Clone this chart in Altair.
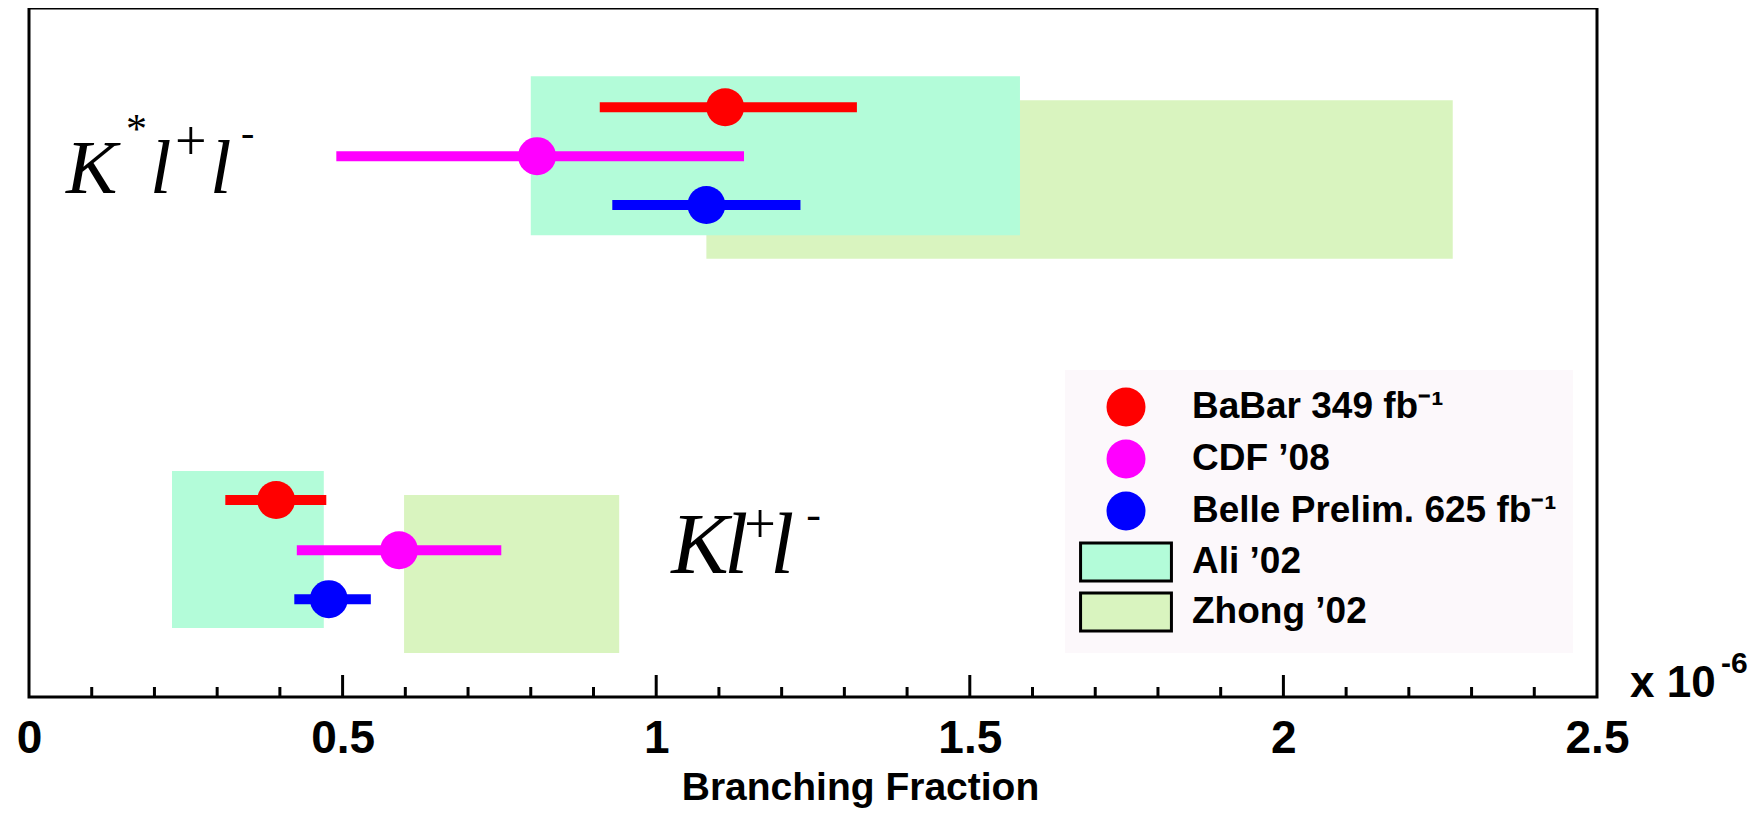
import altair as alt
import pandas as pd

# ---------------- data (branching fractions, units of 1e-6) ----------------
experiments = ["BaBar 349 fb⁻¹", "CDF ’08", "Belle Prelim. 625 fb⁻¹"]
theories = ["Zhong ’02", "Ali ’02"]
legend_order = ["BaBar 349 fb⁻¹", "CDF ’08", "Belle Prelim. 625 fb⁻¹", "Ali ’02", "Zhong ’02"]

# K* l+ l-  measurements
kst_val = [1.11, 0.81, 1.08]
kst_lo = [0.91, 0.49, 0.93]
kst_hi = [1.32, 1.14, 1.23]
kst_row = [8.56, 7.85, 7.14]

# K l+ l-  measurements
k_val = [0.394, 0.59, 0.478]
k_lo = [0.313, 0.427, 0.423]
k_hi = [0.474, 0.753, 0.545]
k_row = [2.86, 2.13, 1.42]

# theory bands (order: Zhong, Ali)
kst_th_lo = [1.08, 0.80]
kst_th_hi = [2.27, 1.58]
kst_th_bottom = [6.36, 6.70]
kst_th_top = [8.66, 9.01]
k_th_lo = [0.598, 0.228]
k_th_hi = [0.941, 0.470]
k_th_bottom = [0.64, 1.00]
k_th_top = [2.93, 3.28]

# channel label anchors
label_channel = ["Kst", "K"]
label_x = [0.059, 1.024]
label_y = [7.315, 1.80]

tick_labels = [0, 0.5, 1, 1.5, 2, 2.5]
major_ticks = [0.5, 1.0, 1.5, 2.0]
minor_ticks = [0.1, 0.2, 0.3, 0.4, 0.6, 0.7, 0.8, 0.9, 1.1, 1.2, 1.3, 1.4,
               1.6, 1.7, 1.8, 1.9, 2.1, 2.2, 2.3, 2.4]

# ---------------- tables ----------------
meas = pd.DataFrame({
    "source": experiments * 2,
    "value": kst_val + k_val,
    "lo": kst_lo + k_lo,
    "hi": kst_hi + k_hi,
    "row": kst_row + k_row,
})
theory = pd.DataFrame({
    "source": theories * 2,
    "lo": kst_th_lo + k_th_lo,
    "hi": kst_th_hi + k_th_hi,
    "bottom": kst_th_bottom + k_th_bottom,
    "top": kst_th_top + k_th_top,
})
labels = pd.DataFrame({"channel": label_channel, "lx": label_x, "ly": label_y})
major_df = pd.DataFrame({"pos": major_ticks})
minor_df = pd.DataFrame({"pos": minor_ticks})

# ---------------- styling ----------------
W, H = 1568, 689
SANS = "Liberation Sans"
SERIF = "Liberation Serif"

colors = ["#ff0000", "#ff00ff", "#0000ff", "#b3fcd9", "#d9f4bf"]
rect_path = "M-2.33,-0.97H2.33V0.97H-2.33Z"
shapes = ["circle", "circle", "circle", rect_path, rect_path]
strokes = ["transparent", "transparent", "transparent", "black", "black"]

xscale = alt.Scale(domain=[0, 2.5], nice=False, zero=False)
yscale = alt.Scale(domain=[0, 10], nice=False, zero=False)
cscale = alt.Scale(domain=legend_order, range=colors)

xaxis = alt.Axis(
    values=tick_labels, format="~g", title="Branching Fraction",
    domain=False, ticks=False, tickSize=0, grid=False,
    labelFont=SANS, labelFontSize=46, labelFontWeight="bold", labelColor="black",
    labelPadding=19, labelFlush=False, labelOverlap=False, labelBaseline="top",
    titleFont=SANS, titleFontSize=39, titleFontWeight="bold", titleColor="black",
    titleX=831, titleY=102, titleAlign="center", titleBaseline="alphabetic",
)


def X(field):
    return alt.X(field, type="quantitative", scale=xscale, axis=xaxis)


def Y(field):
    return alt.Y(field, type="quantitative", scale=yscale, axis=None)


legend = alt.Legend(
    title=None, orient="none", legendX=1036, legendY=362,
    symbolSize=1521, symbolStrokeWidth=3, symbolOffset=24, symbolOpacity=1,
    labelOffset=45, rowPadding=0, padding=16, fillColor="#fcf8fb",
    labelFont=SANS, labelFontSize=37, labelFontWeight="bold", labelColor="black",
    labelLimit=0, labelBaseline="middle",
)

boxes = alt.Chart(theory).mark_rect(opacity=1).encode(
    x=X("lo"), x2="hi", y=Y("bottom"), y2="top",
    color=alt.Color("source:N", scale=cscale, legend=None),
)

bars = alt.Chart(meas).mark_rule(strokeWidth=10).encode(
    x=X("lo"), x2="hi", y=Y("row"),
    color=alt.Color("source:N", scale=cscale, legend=None),
)

points = alt.Chart(meas).mark_point(filled=True, opacity=1, size=1444, strokeWidth=3).encode(
    x=X("value"), y=Y("row"),
    color=alt.Color("source:N", scale=cscale, legend=legend),
    shape=alt.Shape("source:N", scale=alt.Scale(domain=legend_order, range=shapes), legend=legend),
    stroke=alt.Stroke("source:N", scale=alt.Scale(domain=legend_order, range=strokes), legend=legend),
)

major = alt.Chart(major_df).mark_rule(color="black", strokeWidth=3).encode(
    x=X("pos"), y=alt.value(H), y2=alt.value(H - 22)
)
minor = alt.Chart(minor_df).mark_rule(color="black", strokeWidth=3).encode(
    x=X("pos"), y=alt.value(H), y2=alt.value(H - 10)
)

# pieces of the channel labels: (text, dx, dy, size, style)
pieces = {
    "Kst": [("K", 0, 0, 77, "italic"), ("*", 60, -50, 42, "normal"),
            ("l", 84, 0, 77, "italic"), ("+", 109, -33, 56, "normal"),
            ("l", 144, 0, 77, "italic"), ("-", 175, -47, 40, "normal")],
    "K": [("K", 0, 0, 86, "italic"), ("l", 53, 0, 86, "italic"),
          ("+", 73, -30, 56, "normal"), ("l", 99, 0, 86, "italic"),
          ("-", 135, -44, 44, "normal")],
}
label_layers = []
for ch, plist in pieces.items():
    for txt, dx, dy, size, style in plist:
        label_layers.append(
            alt.Chart(labels).transform_filter(alt.datum.channel == ch).mark_text(
                text=txt, dx=dx, dy=dy, fontSize=size, font=SERIF, fontStyle=style,
                align="left", baseline="alphabetic", color="black",
            ).encode(x=X("lx"), y=Y("ly"))
        )

scale_note = alt.Chart(labels).mark_text(
    text="x 10", fontSize=44, font=SANS, fontWeight="bold", align="left",
    baseline="alphabetic", color="black",
).encode(x=alt.value(W + 33), y=alt.value(H)).transform_filter(alt.datum.channel == "K")
scale_exp = alt.Chart(labels).mark_text(
    text="-6", fontSize=30, font=SANS, fontWeight="bold", align="left",
    baseline="alphabetic", color="black",
).encode(x=alt.value(W + 124), y=alt.value(H - 24)).transform_filter(alt.datum.channel == "K")

chart = alt.layer(
    boxes, bars, points, major, minor, *label_layers, scale_note, scale_exp
).resolve_legend(
    color="independent", shape="independent", stroke="independent"
).properties(
    width=W, height=H,
    padding={"left": 21, "top": 0, "right": 158, "bottom": 111},
    autosize=alt.AutoSizeParams(type="none"),
    background="white",
).configure_view(
    stroke="black", strokeWidth=3, fill="white"
)

chart.save("out.html", embed_options={"renderer": "svg", "actions": False})
